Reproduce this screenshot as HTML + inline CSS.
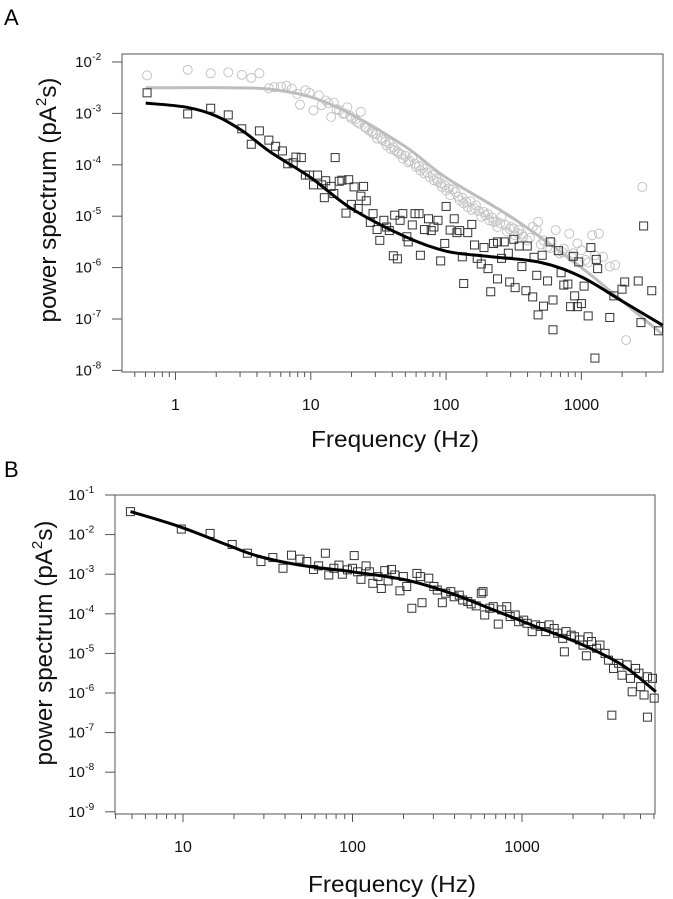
<!DOCTYPE html>
<html><head><meta charset="utf-8"><style>
html,body{margin:0;padding:0;background:#fff}
svg{display:block;font-family:"Liberation Sans",Arial,sans-serif}
</style></head><body>
<svg id="fig" width="673" height="899" viewBox="0 0 673 899" xmlns="http://www.w3.org/2000/svg">
<text x="4" y="25" font-size="22">A</text>
<text x="4" y="477" font-size="22">B</text>
<g id="pa"></g>
<g id="pb"></g>
</svg>
<script>
// ---------- Panel A data (log10 units) ----------
const greyCurveLogF_A = [-0.22,0.0,0.4,0.7,1.0,1.3,1.7,2.0,2.5,3.0,3.3,3.6];
const greyCurveLogP_A = [-2.5,-2.5,-2.5,-2.53,-2.68,-3.02,-3.65,-4.25,-5.05,-6.0,-6.65,-7.3];
const blackCurveLogF_A = [-0.22,0.08,0.3,0.5,0.7,1.0,1.3,1.7,2.0,2.3,2.7,3.0,3.3,3.6];
const blackCurveLogP_A = [-2.8,-2.88,-3.05,-3.35,-3.75,-4.25,-4.85,-5.4,-5.68,-5.78,-5.9,-6.18,-6.65,-7.12];
const squareLogF_A = [-0.21,0.09,0.26,0.39,0.49,0.56,0.62,0.69,0.74,0.79,0.83,0.87,0.89,0.93,0.96,0.99,1.02,1.05,1.08,1.10,1.11,1.15,1.17,1.18,1.21,1.23,1.26,1.28,1.30,1.32,1.35,1.37,1.39,1.41,1.44,1.46,1.49,1.51,1.54,1.56,1.58,1.61,1.62,1.64,1.66,1.68,1.71,1.72,1.75,1.77,1.80,1.81,1.84,1.87,1.89,1.91,1.94,1.96,1.99,2.00,2.03,2.06,2.08,2.10,2.12,2.13,2.16,2.19,2.21,2.23,2.26,2.28,2.31,2.33,2.35,2.38,2.38,2.41,2.43,2.46,2.47,2.50,2.51,2.54,2.56,2.59,2.60,2.64,2.65,2.67,2.68,2.71,2.72,2.75,2.77,2.79,2.79,2.83,2.85,2.87,2.90,2.92,2.94,2.95,2.97,2.98,3.00,3.02,3.05,3.07,3.10,3.11,3.12,3.21,3.24,3.30,3.32,3.42,3.44,3.46,3.52,3.57];
const squareLogP_A = [-2.60,-3.01,-2.90,-3.03,-3.30,-3.60,-3.34,-3.52,-3.64,-3.73,-3.98,-3.96,-3.85,-3.86,-4.20,-4.20,-4.39,-4.20,-4.39,-4.64,-4.31,-4.42,-4.56,-3.86,-4.32,-4.30,-4.94,-4.29,-4.77,-4.43,-4.85,-4.61,-4.42,-4.70,-5.12,-4.95,-5.26,-5.47,-5.08,-5.21,-5.28,-5.77,-4.98,-5.83,-5.08,-4.95,-5.40,-5.50,-5.17,-4.95,-4.95,-5.76,-5.26,-5.05,-5.28,-5.21,-5.08,-5.87,-5.53,-4.81,-5.27,-5.05,-5.32,-5.28,-5.79,-6.31,-5.32,-5.16,-5.56,-5.82,-5.93,-5.61,-6.02,-6.47,-5.53,-5.50,-6.22,-5.82,-5.50,-5.72,-6.28,-5.45,-6.39,-5.58,-5.98,-6.45,-5.58,-6.57,-5.80,-6.15,-6.92,-5.76,-6.75,-6.26,-5.50,-6.63,-7.21,-5.67,-6.10,-6.34,-6.32,-6.76,-5.78,-6.55,-6.76,-5.89,-6.70,-6.36,-6.94,-5.61,-7.76,-5.84,-6.02,-6.97,-6.55,-6.42,-6.28,-6.26,-7.07,-5.19,-6.45,-7.23];
const circleLogF_A = [-0.21,0.09,0.26,0.39,0.49,0.56,0.62,0.69,0.73,0.78,0.82,0.86,0.90,0.92,0.96,0.99,1.02,1.06,1.08,1.11,1.15,1.17,1.21,1.24,1.27,1.30,1.34,1.37,1.40,1.43,1.46,1.49,1.53,1.56,1.59,1.62,1.65,1.68,1.72,1.75,1.78,1.81,1.84,1.88,1.91,1.94,1.97,2.00,2.03,2.07,2.10,2.13,2.16,2.19,2.22,2.26,2.29,2.32,2.35,2.38,2.41,2.45,2.48,2.51,2.54,2.57,2.60,2.64,2.67,2.68,2.72,2.75,2.78,2.81,2.84,2.87,2.91,2.94,2.97,3.00,3.03,3.08,3.13,3.16,3.21,3.25,3.33,3.45,
  1.13,1.19,1.25,1.29,1.33,1.36,1.41,1.45,1.48,1.52,1.55,1.58,1.61,1.64,1.67,1.70,1.73,1.77,1.80,1.83,1.86,1.90,1.93,1.96,1.99,2.02,2.05,2.09,2.12,2.15,2.18,2.21,2.24,2.28,2.31,2.34,2.37,2.40,2.44,2.47,2.50,2.53,2.56,2.62,2.70,2.77,2.86,2.93,3.05,3.10];
const circleLogP_A = [-2.26,-2.15,-2.22,-2.20,-2.25,-2.31,-2.22,-2.51,-2.49,-2.48,-2.46,-2.52,-2.62,-2.83,-2.55,-2.60,-2.94,-2.65,-2.84,-2.75,-3.07,-2.79,-2.94,-3.01,-2.88,-3.10,-3.17,-2.97,-3.27,-3.33,-3.39,-3.49,-3.52,-3.62,-3.69,-3.72,-3.78,-3.88,-3.95,-3.85,-4.04,-4.11,-4.17,-4.24,-4.30,-4.33,-4.43,-4.50,-4.59,-4.53,-4.69,-4.75,-4.82,-4.88,-4.79,-5.01,-4.98,-5.08,-5.11,-5.21,-5.01,-5.30,-5.21,-5.37,-5.27,-5.40,-5.47,-5.21,-5.27,-5.11,-5.47,-5.60,-5.50,-5.27,-5.72,-5.63,-5.34,-5.72,-5.53,-5.66,-5.85,-5.37,-5.34,-5.79,-5.98,-5.95,-7.41,-4.43,
  -2.80,-2.92,-3.00,-3.05,-3.12,-3.20,-3.28,-3.35,-3.40,-3.48,-3.55,-3.58,-3.66,-3.74,-3.80,-3.83,-3.92,-3.98,-4.02,-4.07,-4.15,-4.20,-4.27,-4.36,-4.40,-4.46,-4.48,-4.62,-4.64,-4.72,-4.71,-4.85,-4.90,-4.92,-4.96,-5.03,-5.10,-5.14,-5.17,-5.25,-5.24,-5.33,-5.35,-5.42,-5.55,-5.62,-5.70,-5.80,-5.90,-5.76];
const xTicksA = [0, 1, 2, 3];
const xTickLabelsA = ["1", "10", "100", "1000"];
const yTicksA = [-2,-3,-4,-5,-6,-7,-8];

// ---------- Panel B data (log10 units) ----------
const curveLogF_B = [0.69,0.98,1.26,1.44,1.69,2.0,2.32,2.58,2.83,3.08,3.34,3.59,3.79];
const curveLogP_B = [-1.42,-1.80,-2.26,-2.54,-2.77,-2.94,-3.15,-3.48,-3.90,-4.32,-4.75,-5.29,-5.97];
const squareLogF_B = [0.69,0.99,1.16,1.29,1.38,1.46,1.53,1.59,1.64,1.69,1.73,1.77,1.80,1.84,1.86,1.89,1.92,1.94,1.97,2.00,2.01,2.03,2.05,2.08,2.10,2.12,2.15,2.17,2.19,2.21,2.23,2.25,2.28,2.30,2.32,2.35,2.38,2.40,2.41,2.45,2.48,2.50,2.53,2.55,2.58,2.60,2.63,2.65,2.68,2.70,2.73,2.76,2.77,2.78,2.81,2.83,2.86,2.88,2.91,2.93,2.96,2.98,3.01,3.03,3.06,3.08,3.11,3.14,3.16,3.19,3.21,3.24,3.25,3.26,3.29,3.31,3.34,3.36,3.38,3.39,3.41,3.44,3.46,3.49,3.51,3.53,3.54,3.57,3.59,3.62,3.64,3.65,3.67,3.69,3.70,3.72,3.74,3.74,3.77,3.78];
const squareLogP_B = [-1.42,-1.86,-1.97,-2.25,-2.47,-2.68,-2.58,-2.85,-2.52,-2.62,-2.68,-2.88,-2.79,-2.47,-3.02,-2.85,-2.77,-3.00,-2.89,-2.85,-2.53,-2.94,-3.13,-2.79,-2.94,-3.23,-3.06,-3.36,-2.91,-3.17,-2.88,-3.02,-3.42,-3.06,-3.31,-3.86,-2.98,-3.06,-3.72,-3.10,-3.31,-3.40,-3.72,-3.48,-3.44,-3.57,-3.53,-3.65,-3.69,-3.75,-3.80,-3.48,-3.44,-4.03,-3.86,-3.82,-4.26,-3.90,-3.82,-4.07,-4.03,-4.20,-4.16,-4.24,-4.45,-4.28,-4.32,-4.45,-4.28,-4.37,-4.49,-4.62,-4.96,-4.45,-4.54,-4.58,-4.66,-4.79,-5.06,-4.58,-4.70,-4.87,-4.79,-5.00,-5.17,-6.56,-5.38,-5.25,-5.55,-5.29,-5.63,-5.97,-5.38,-5.50,-5.84,-6.05,-5.59,-6.61,-5.63,-6.13];
const xTicksB = [1, 2, 3];
const xTickLabelsB = ["10", "100", "1000"];
const yTicksB = [-1,-2,-3,-4,-5,-6,-7,-8,-9];

const NS = "http://www.w3.org/2000/svg";
function mk(tag, attrs, parent){ const e=document.createElementNS(NS,tag); for(const k in attrs) e.setAttribute(k,attrs[k]); parent.appendChild(e); return e; }
function smoothPath(pts){
  let d="M"+pts[0][0].toFixed(1)+","+pts[0][1].toFixed(1);
  for(let i=0;i<pts.length-1;i++){
    const p0=pts[Math.max(0,i-1)],p1=pts[i],p2=pts[i+1],p3=pts[Math.min(pts.length-1,i+2)];
    const c1=[p1[0]+(p2[0]-p0[0])/6,p1[1]+(p2[1]-p0[1])/6];
    const c2=[p2[0]-(p3[0]-p1[0])/6,p2[1]-(p3[1]-p1[1])/6];
    d+=" C"+c1[0].toFixed(1)+","+c1[1].toFixed(1)+" "+c2[0].toFixed(1)+","+c2[1].toFixed(1)+" "+p2[0].toFixed(1)+","+p2[1].toFixed(1);
  }
  return d;
}

function panel(g, cfg){
  const X = lf => cfg.x0 + (lf - cfg.lf0) * cfg.dx;
  const Y = lp => cfg.y0 + (cfg.lp0 - lp) * cfg.dy;
  const box = mk("rect",{x:cfg.L,y:cfg.T,width:cfg.R-cfg.L,height:cfg.B-cfg.T,fill:"none",stroke:"#555","stroke-width":1},g);
  
  
  cfg.yTicks.forEach(e=>{
    const y=Y(e);
    const t=mk("line",{x1:cfg.L-10,x2:cfg.L,y1:y,y2:y,stroke:"#555","stroke-width":1},g);
    
    
    const tx=mk("text",{x:cfg.L-19,y:y+5,"font-size":15,"text-anchor":"end",fill:"#111"},g);
    
    
    tx.textContent="10";
    const sp=mk("tspan",{dy:-7,"font-size":10},tx); sp.textContent=String(e);
    tx.setAttribute("x", cfg.L-19 - (String(e).length*5.6));
    sp.setAttribute("x", cfg.L-19 - (String(e).length*5.6)+0.5);
    tx.setAttribute("text-anchor","end");
    sp.setAttribute("text-anchor","start");
  });
  for(let d=Math.floor(cfg.minLF);d<=Math.ceil(cfg.maxLF);d++){
    for(let m=1;m<=9;m++){
      const lf=d+Math.log10(m);
      if(lf<cfg.minLF-1e-6||lf>cfg.maxLF+1e-6) continue;
      const x=X(lf);
      const t=mk("line",{x1:x,x2:x,y1:cfg.B,y2:cfg.B+(m===1?8:5),stroke:"#555","stroke-width":1},g);
      
      
    }
  }
  cfg.xTicks.forEach((lf,i)=>{
    const tx=mk("text",{x:X(lf),y:cfg.xLabY,"font-size":16,"text-anchor":"middle",fill:"#111"},g);
    
    
    tx.textContent=cfg.xLabels[i];
  });
  const xt=mk("text",{x:cfg.xTitleX,y:cfg.xTitleY,"font-size":23,"text-anchor":"middle",fill:"#111",textLength:168,lengthAdjust:"spacingAndGlyphs"},g);
  
  
  xt.textContent="Frequency (Hz)";
  const yt=mk("text",{x:0,y:0,"font-size":24,"text-anchor":"middle",fill:"#111",transform:`translate(${cfg.yTitleX},${cfg.yTitleY}) rotate(-90)`,textLength:245,lengthAdjust:"spacingAndGlyphs"},g);
  
  
  yt.textContent="power spectrum (pA";
  const s2=mk("tspan",{dy:-10,"font-size":15},yt); s2.textContent="2";
  const s3=mk("tspan",{dy:10},yt); s3.textContent="s)";
  return {X,Y};
}

const ga=document.getElementById("pa");
const A=panel(ga,{L:122,R:663,T:54,B:372,x0:175.5,lf0:0,dx:135.3,y0:62,lp0:-2,dy:51.4,
  yTicks:yTicksA,xTicks:xTicksA,xLabels:xTickLabelsA,minLF:-0.39,maxLF:3.6,xLabY:410,
  xTitleX:395,xTitleY:447,yTitleX:56,yTitleY:200});
circleLogF_A.forEach((lf,i)=>{
  const c=mk("circle",{cx:A.X(lf),cy:A.Y(circleLogP_A[i]),r:4.5,fill:"none",stroke:"#c4c4c4","stroke-width":1},ga);
  
  
});
const gl=mk("path",{d:smoothPath(greyCurveLogF_A.map((lf,i)=>[A.X(lf),A.Y(greyCurveLogP_A[i])])),fill:"none",stroke:"#bdbdbd","stroke-width":3},ga);


squareLogF_A.forEach((lf,i)=>{
  const r=mk("rect",{x:A.X(lf)-4,y:A.Y(squareLogP_A[i])-4,width:8,height:8,fill:"none",stroke:"#333","stroke-width":1},ga);
  
  
});
const bl=mk("path",{d:smoothPath(blackCurveLogF_A.map((lf,i)=>[A.X(lf),A.Y(blackCurveLogP_A[i])])),fill:"none",stroke:"#000","stroke-width":3},ga);



const gb=document.getElementById("pb");
const Bp=panel(gb,{L:115,R:655,T:495,B:814,x0:183,lf0:1,dx:169.5,y0:495,lp0:-1,dy:39.6,
  yTicks:yTicksB,xTicks:xTicksB,xLabels:xTickLabelsB,minLF:0.6,maxLF:3.785,xLabY:852,
  xTitleX:392,xTitleY:892,yTitleX:52,yTitleY:643});
squareLogF_B.forEach((lf,i)=>{
  const r=mk("rect",{x:Bp.X(lf)-4,y:Bp.Y(squareLogP_B[i])-4,width:8,height:8,fill:"none",stroke:"#333","stroke-width":1},gb);
  
  
});
const bl2=mk("path",{d:smoothPath(curveLogF_B.map((lf,i)=>[Bp.X(lf),Bp.Y(curveLogP_B[i])])),fill:"none",stroke:"#000","stroke-width":3},gb);


</script>
</body></html>
